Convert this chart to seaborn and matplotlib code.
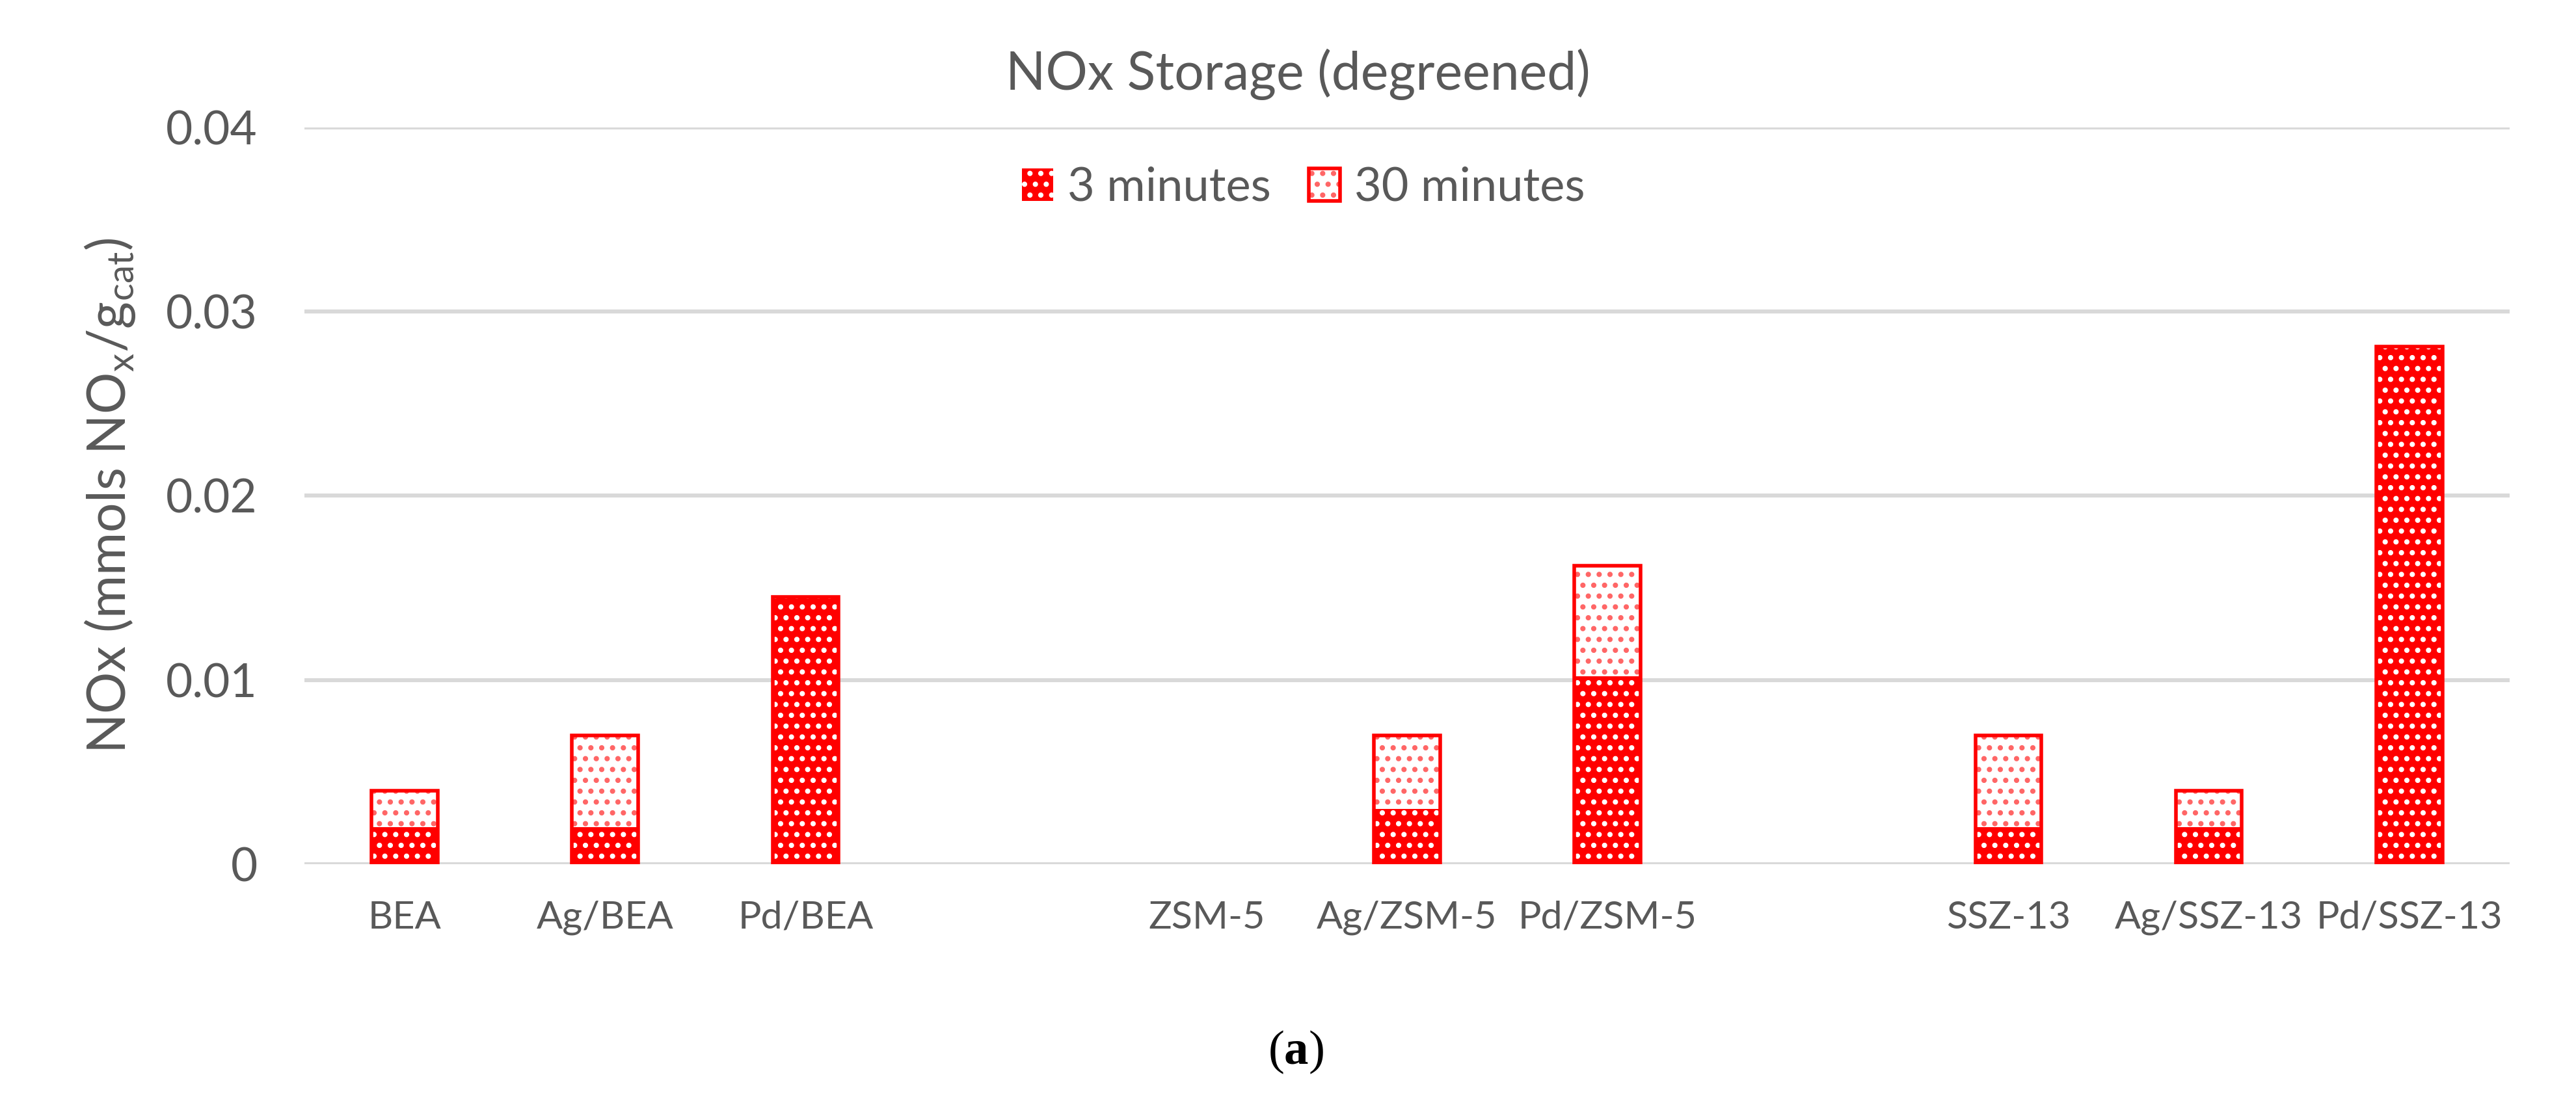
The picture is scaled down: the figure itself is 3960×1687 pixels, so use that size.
import numpy as np
import pandas as pd
import matplotlib
matplotlib.use("Agg")
import matplotlib.pyplot as plt
from matplotlib.patches import Patch
import seaborn as sns

# ---------------- data ----------------
slots = ["BEA", "Ag/BEA", "Pd/BEA", "gap1", "ZSM-5", "Ag/ZSM-5", "Pd/ZSM-5",
         "gap2", "SSZ-13", "Ag/SSZ-13", "Pd/SSZ-13"]
slot_labels = ["BEA", "Ag/BEA", "Pd/BEA", "", "ZSM-5", "Ag/ZSM-5", "Pd/ZSM-5",
               "", "SSZ-13", "Ag/SSZ-13", "Pd/SSZ-13"]
categories = ["BEA", "Ag/BEA", "Pd/BEA", "ZSM-5", "Ag/ZSM-5", "Pd/ZSM-5",
              "SSZ-13", "Ag/SSZ-13", "Pd/SSZ-13"]
min3 = [0.002, 0.002, 0.0145, np.nan, 0.003, 0.0102, 0.002, 0.002, 0.0281]
min30 = [0.002, 0.005, -0.00015, np.nan, 0.004, 0.006, 0.005, 0.002, 0.0]
yticks = [0, 0.01, 0.02, 0.03, 0.04]
ytick_labels = ["0", "0.01", "0.02", "0.03", "0.04"]
series_names = ["3 minutes", "30 minutes"]

df = pd.DataFrame({"cat": categories, "m3": min3, "m30": min30})
df["top"] = df["m3"] + df["m30"].clip(lower=0)
df["neg"] = df["m30"].clip(upper=0)

# ---------------- style ----------------
sns.set_theme(style="white")
plt.rcParams["font.family"] = ["Lato", "DejaVu Sans"]
plt.rcParams["hatch.linewidth"] = 1.7
plt.rcParams["mathtext.fontset"] = "custom"
plt.rcParams["mathtext.bf"] = "Liberation Serif:bold"
plt.rcParams["mathtext.rm"] = "Liberation Serif"

TXT = "#595959"
RED = "#FF0000"
LIGHT = "#FF6666"
GRID = "#D9D9D9"

fig = plt.figure(figsize=(19.8, 8.435), dpi=200)
ax = fig.add_axes([0.1182, 0.2122, 0.856, 0.6719])

W = 0.33
common = dict(x="cat", order=slots, width=W, errorbar=None, saturation=1, ax=ax)

# 30-minute segment (white fill with light red dots) spanning to total
sns.barplot(data=df, y="top", color="white", edgecolor=LIGHT, hatch="..",
            linewidth=0, zorder=2, **common)
# negative 30-minute part
sns.barplot(data=df, y="neg", color="white", edgecolor=LIGHT, hatch="..",
            linewidth=0, zorder=2, **common)
# 3-minute segment (red with white dots)
sns.barplot(data=df, y="m3", color=RED, edgecolor="white", hatch="..",
            linewidth=0, zorder=3, **common)
# red outline around each bar
sns.barplot(data=df, y="top", color=RED, fill=False, linewidth=2.0,
            zorder=4, **common)

# ---------------- axes ----------------
ax.set_xlim(-0.5, len(slots) - 0.5)
ax.set_ylim(0, 0.04)
ax.set_yticks(yticks)
ax.set_yticklabels(ytick_labels)
ax.set_xticks(range(len(slots)))
ax.set_xticklabels(slot_labels)
ax.grid(axis="y", color=GRID, linewidth=2.2, zorder=0)
ax.set_axisbelow(True)
for s in ax.spines.values():
    s.set_visible(False)
ax.tick_params(axis="both", length=0)
ax.tick_params(axis="x", labelsize=21.4, labelcolor=TXT, pad=20)
ax.tick_params(axis="y", labelsize=25.6, labelcolor=TXT, pad=26)
ax.set_xlabel("")
ax.set_ylabel(r"NOx (mmols NO$_\mathregular{x}$/g$_\mathregular{cat}$)",
              fontsize=29, color=TXT, labelpad=16)

# title
fig.text(0.504, 0.918, "NOx Storage (degreened)", ha="center", va="baseline",
         fontsize=29, color=TXT)

# legend
h3 = Patch(facecolor=RED, edgecolor="white", hatch="..", linewidth=0)
h30a = Patch(facecolor="white", edgecolor=LIGHT, hatch="..", linewidth=0)
h30b = Patch(facecolor="none", edgecolor=RED, linewidth=2.0)
fig.legend([h3, (h30a, h30b)], series_names, loc="center",
           bbox_to_anchor=(0.506, 0.829), ncol=2, frameon=False,
           fontsize=26, labelcolor=TXT, handlelength=0.67, handleheight=0.69,
           handletextpad=0.3, columnspacing=0.8)

# caption
fig.text(0.503, 0.0302, r"$\mathrm{(}\mathbf{a}\mathrm{)}$", ha="center",
         va="baseline", fontsize=27, color="black")

fig.savefig("out.png", dpi=200, facecolor="white")
